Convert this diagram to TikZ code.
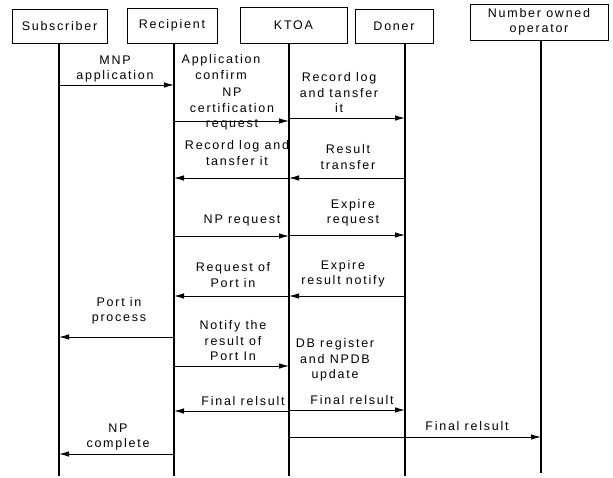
\documentclass[tikz,border=0pt]{standalone}
\usepackage{fontspec}
\setmainfont{Liberation Sans}[LetterSpace=14]
\usepackage{tikz}
\usetikzlibrary{arrows.meta,positioning}

\begin{document}
\begin{tikzpicture}[x=1pt,y=-1pt,>={Latex[length=10pt,width=5.5pt]},
  font=\fontsize{12.5}{15.5}\selectfont]
\tikzstyle{actor}=[draw=black,line width=1pt,align=center,inner sep=1pt]
\tikzstyle{life}=[line width=1.3pt]
\tikzstyle{msg}=[->,line width=0.9pt]
\tikzstyle{lbl}=[align=center,inner sep=0pt]
\useasboundingbox (0,0) rectangle (613,477);
% header boxes
\node[actor,minimum width=95pt,minimum height=34pt] (sub) at (59.5,26) {Subscriber};
\node[actor,minimum width=90pt,minimum height=35pt] (rec) at (172,25.5) {Recipient};
\node[actor,minimum width=107pt,minimum height=36pt] (ktoa) at (293.5,25) {KTOA};
\node[actor,minimum width=78pt,minimum height=34pt] (don) at (394,26) {Doner};
\node[actor,minimum width=138pt,minimum height=36pt] (own) at (539,22) {Number owned\\operator};
% lifelines
\coordinate (subT) at (59,43);   \coordinate (subB) at (59,476);
\coordinate (recT) at (174,43);  \coordinate (recB) at (174,476);
\coordinate (ktoaT) at (289,43); \coordinate (ktoaB) at (289,476);
\coordinate (donT) at (405,43);  \coordinate (donB) at (405,476);
\coordinate (ownT) at (541,40);  \coordinate (ownB) at (541,473);
\draw[life] (subT) -- (subB);
\draw[life] (recT) -- (recB);
\draw[life] (ktoaT) -- (ktoaB);
\draw[life] (donT) -- (donB);
\draw[life] (ownT) -- (ownB);
% messages
\draw[msg] (subT |- 0,85) -- (recT |- 0,85);
\draw[msg] (recT |- 0,121) -- (ktoaT |- 0,121);
\draw[msg] (ktoaT |- 0,118) -- (donT |- 0,118);
\draw[msg] (donT |- 0,178) -- (ktoaT |- 0,178);
\draw[msg] (ktoaT |- 0,178) -- (recT |- 0,178);
\draw[msg] (recT |- 0,236) -- (ktoaT |- 0,236);
\draw[msg] (ktoaT |- 0,235) -- (donT |- 0,235);
\draw[msg] (donT |- 0,296) -- (ktoaT |- 0,296);
\draw[msg] (ktoaT |- 0,296) -- (recT |- 0,296);
\draw[msg] (recT |- 0,337) -- (subT |- 0,337);
\draw[msg] (recT |- 0,366) -- (ktoaT |- 0,366);
\draw[msg] (ktoaT |- 0,411) -- (recT |- 0,411);
\draw[msg] (ktoaT |- 0,410) -- (donT |- 0,410);
\draw[msg] (ktoaT |- 0,437) -- (ownT |- 0,437);
\draw[msg] (recT |- 0,454) -- (subT |- 0,454);
% labels
\node[lbl] (l1) at (115,69) {MNP\\application};
\node[lbl] (l2) at (221,67) {Application\\confirm};
\node[lbl] (l3) at (232,109) {NP\\certification\\request};
\node[lbl] (l4) at (339,93) {Record log\\and tansfer\\it};
\node[lbl] (l5) at (237,153) {Record log and\\tansfer it};
\node[lbl] (l6) at (348,157) {Result\\transfer};
\node[lbl] (l7) at (242,220) {NP request};
\node[lbl] (l8) at (353,213) {Expire\\request};
\node[lbl] (l9) at (233,275) {Request of\\Port in};
\node[lbl] (l10) at (343,274) {Expire\\result notify};
\node[lbl] (l11) at (119,311) {Port in\\process};
\node[lbl] (l12) at (233,341) {Notify the\\result of\\Port In};
\node[lbl] (l13) at (335,360) {DB register\\and NPDB\\update};
\node[lbl] (l14) at (243,401) {Final relsult};
\node[lbl] (l15) at (352,400) {Final relsult};
\node[lbl] (l16) at (467,426) {Final relsult};
\node[lbl] (l17) at (118,437) {NP\\complete};
\end{tikzpicture}
\end{document}
